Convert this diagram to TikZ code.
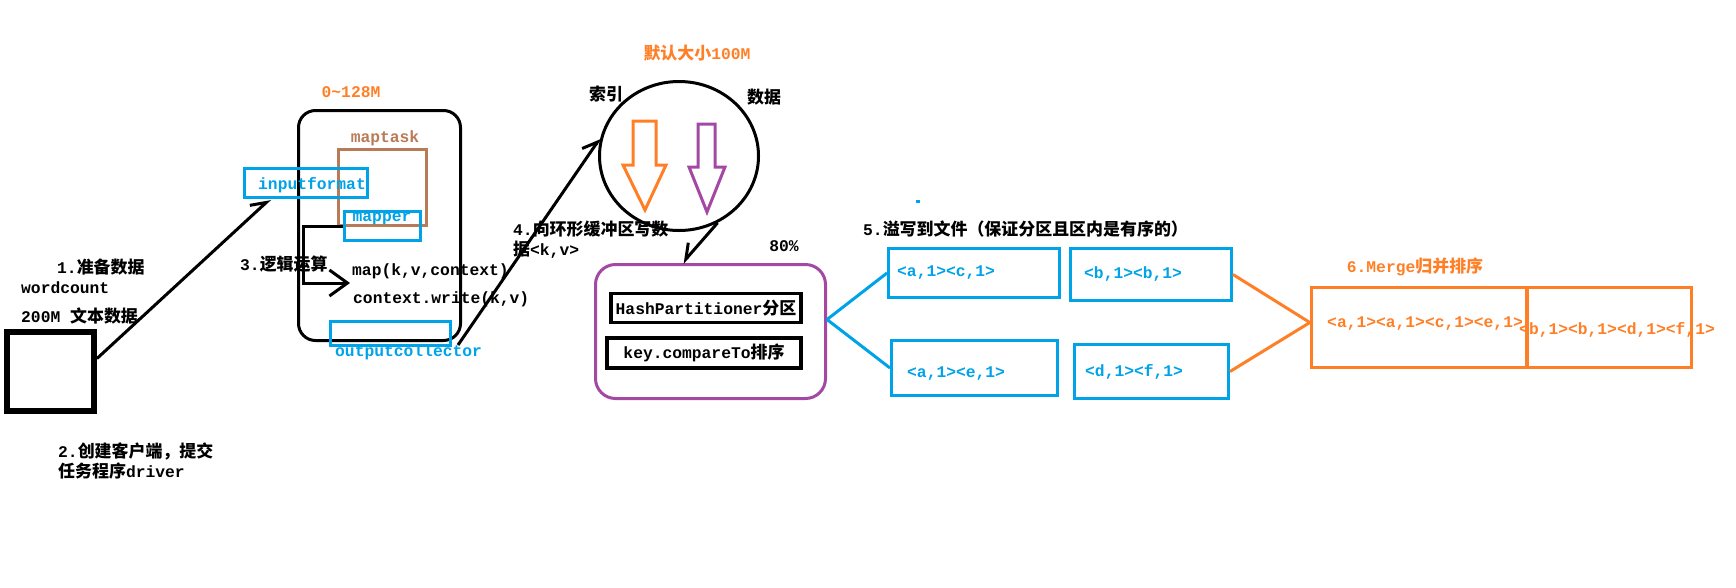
\documentclass[tikz,border=0pt]{standalone}
\usepackage{fontspec}
\setmainfont{Liberation Mono}
\newfontfamily\cjk{Noto Sans CJK SC}[Scale=1.04]
\newcommand\zh[1]{{\cjk #1}}
\usepackage{tikz}
\usetikzlibrary{arrows.meta, positioning, shapes.geometric}
\definecolor{paintblue}{RGB}{0,162,232}
\definecolor{paintorange}{RGB}{255,127,39}
\definecolor{paintbrown}{RGB}{185,122,87}
\definecolor{paintpurple}{RGB}{163,73,164}

\begin{document}
\begin{tikzpicture}[
      x=1pt, y=-1pt,
      node distance=12pt and 8pt,
      txt/.style={inner sep=0pt, font=\fontsize{16.3}{20}\selectfont\bfseries},
      frame/.style={draw, line width=3pt, inner sep=0pt, txt},
      bluebox/.style={frame, draw=paintblue},
      link/.style={line width=3pt},
      hand/.style={link, -{Straight Barb[left, length=14pt, width=18pt]}},
      handr/.style={link, -{Straight Barb[right, length=14pt, width=18pt]}}
    ]
    \useasboundingbox (0,0) rectangle (1736,587);

    % step 1 / 2 : input data and client
    \node[txt, anchor=west] (step1) at (57,267) {1.\zh{准备数据}};
    \node[txt, anchor=west] (wc) at (21,288) {wordcount};
    \node[txt, anchor=west] (datasize) at (21,316) {200M \zh{文本数据}};
    \node[frame, line width=6pt, minimum width=87pt, minimum height=79pt] (src) at (50.5,371.5) {};
    \node[txt, anchor=north west, align=left] (step2) at (58,443)
        {2.\zh{创建客户端，提交}\\\zh{任务程序}driver};

    % step 3 : maptask
    \node[txt, text=paintorange] (splitsize) at (351,92) {0\textasciitilde128M};
    \node[frame, rounded corners=17pt, minimum width=162pt, minimum height=230pt] (task) at (379.5,225.5) {};
    \node[txt, text=paintbrown] (tasklbl) at (385,138) {maptask};
    \node[frame, draw=paintbrown, minimum width=88pt, minimum height=76pt] (taskbox) at (382.5,187.5) {};
    \node[bluebox, minimum width=123pt, minimum height=29pt] (infmt) at (306,183) {};
    \node[txt, text=paintblue] (infmtlbl) at (312,185) {inputformat};
    \node[bluebox, minimum width=76pt, minimum height=29pt] (mapper) at (382.5,226) {};
    \node[txt, text=paintblue] (mapperlbl) at (382,219) {mapper};
    \node[txt, anchor=west] (step3) at (240,264) {3.\zh{逻辑运算}};
    \node[txt, anchor=west] (mapfn) at (352,271) {map(k,v,context)};
    \node[txt, anchor=west] (writefn) at (353,299) {context.write(k,v)};
    \node[bluebox, minimum width=120pt, minimum height=24pt] (outcol) at (390.5,333.5) {};
    \node[txt, text=paintblue, anchor=west] (outcollbl) at (335,352) {outputcollector};
    \coordinate (logicend) at (350,283);

    % step 4 : ring buffer
    \node[txt, text=paintorange] (bufsize) at (697,53) {\zh{默认大小}100M};
    \node[draw, ellipse, line width=3pt, inner sep=0pt, minimum width=159pt, minimum height=149pt] (ring) at (679,156) {};
    \node[txt] (idxlbl) at (606,94) {\zh{索引}};
    \node[txt] (datlbl) at (764,97) {\zh{数据}};
    \draw[paintorange, line width=3pt] (633,121) -- (656,121) -- (656,165) -- (666,165)
        -- (645,210) -- (623,165) -- (633,165) -- cycle;
    \draw[paintpurple, line width=3pt] (698,124) -- (715,124) -- (715,167) -- (725,167)
        -- (707,212) -- (689,167) -- (698,167) -- cycle;
    \node[txt, anchor=north west, align=left] (step4) at (513,221)
        {4.\zh{向环形缓冲区写数}\\\zh{据}<k,v>};
    \node[txt] (pct) at (784,246) {80\%};
    \node[frame, draw=paintpurple, rounded corners=20pt, minimum width=230pt, minimum height=134pt] (buffer) at (710.5,331.5) {};
    \node[frame, line width=3.5pt, minimum width=190pt, minimum height=29pt] (hash) at (706,308) {HashPartitioner\zh{分区}};
    \node[frame, line width=3.5pt, minimum width=194pt, minimum height=30pt, below=12pt of hash, xshift=-2pt] (sort) {key.compareTo\zh{排序}};

    % step 5 : spill files
    \node[txt, anchor=west] (step5) at (863,229) {5.\zh{溢写到文件（保证分区且区内是有序的）}};
    \fill[paintblue] (916,199.5) rectangle (920,202.5);
    \node[bluebox, minimum width=171pt, minimum height=49pt] (spillA) at (974,273) {};
    \node[bluebox, minimum width=161pt, minimum height=52pt] (spillB) at (1151,274.5) {};
    \node[bluebox, minimum width=166pt, minimum height=55pt] (spillC) at (974.5,368) {};
    \node[bluebox, minimum width=154pt, minimum height=54pt] (spillD) at (1151.5,371.5) {};
    \node[txt, text=paintblue, anchor=west] (spillAlbl) at ([xshift=10pt]spillA.west) {<a,1><c,1>};
    \node[txt, text=paintblue, anchor=west] (spillBlbl) at ([xshift=15pt]spillB.west) {<b,1><b,1>};
    \node[txt, text=paintblue, anchor=west] (spillClbl) at ([xshift=17pt, yshift=-6pt]spillC.west) {<a,1><e,1>};
    \node[txt, text=paintblue, anchor=west] (spillDlbl) at ([xshift=12pt]spillD.west) {<d,1><f,1>};

    % step 6 : merge
    \node[txt, text=paintorange] (step6) at (1415,267) {6.Merge\zh{归并排序}};
    \node[frame, draw=paintorange, line width=3.3pt, minimum width=215.5pt, minimum height=80pt] (mergeL) at (1419.25,327.5) {};
    \node[frame, draw=paintorange, line width=3.3pt, minimum width=164.5pt, minimum height=80pt] (mergeR) at (1609.25,327.5) {};
    \node[txt, text=paintorange, anchor=west] (mergeLlbl) at (1327,324) {<a,1><a,1><c,1><e,1>};
    \node[txt, text=paintorange, anchor=west] (mergeRlbl) at (1519,330) {<b,1><b,1><d,1><f,1>};

    % connectors
    \draw[hand] ([yshift=13pt]src.east) -- ([xshift=-36pt]infmt.south);
    \draw[link, -{Straight Barb[length=18pt, width=26pt]}] (mapper.west) -| (303,283) -- (logicend);
    \draw[hand] ([xshift=6pt, yshift=2pt]outcol.south east) -- (ring.167);
    \draw[handr] (ring.-60) -- ([xshift=-28pt]buffer.north);
    \draw[link, paintblue] ([yshift=12pt]buffer.east) -- (spillA.west);
    \draw[link, paintblue] ([yshift=12pt]buffer.east) -- (spillC.west);
    \draw[link, paintorange] (spillB.east) -- ([yshift=5pt]mergeL.west);
    \draw[link, paintorange] (spillD.east) -- ([yshift=5pt]mergeL.west);
  \end{tikzpicture}
\end{document}
